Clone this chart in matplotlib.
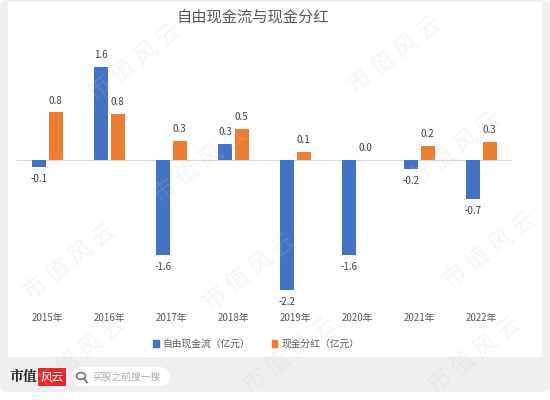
import matplotlib
matplotlib.use("Agg")
import matplotlib.pyplot as plt
import numpy as np
from matplotlib.patches import FancyBboxPatch, Rectangle, Circle, Patch
from matplotlib.lines import Line2D

plt.rcParams['font.family'] = ['Noto Sans CJK SC', 'DejaVu Sans']

# data
years = ['2015年', '2016年', '2017年', '2018年', '2019年', '2020年', '2021年', '2022年']
fcf = [-0.12, 1.6, -1.64, 0.27, -2.24, -1.64, -0.16, -0.67]
dividend = [0.82, 0.79, 0.33, 0.54, 0.14, 0.0, 0.24, 0.31]
title = '自由现金流与现金分红'
series_names = ['自由现金流（亿元）', '现金分红（亿元）']
blue = '#4472C4'
orange = '#ED7D31'
W, H = 550, 400

def fx(px):
    return px / W

def fy(py):
    return 1 - py / H

fig = plt.figure(figsize=(5.5, 4), dpi=100)
fig.patch.set_facecolor('white')

# gray panel and white card
fig.patches.append(FancyBboxPatch((fx(0), fy(392)), fx(550), 392 / H,
                                  boxstyle='round,pad=0,rounding_size=0.015',
                                  transform=fig.transFigure, facecolor='#efefef',
                                  edgecolor='none', zorder=-3))
fig.patches.append(Rectangle((fx(8), fy(357)), fx(534), 355 / H,
                             transform=fig.transFigure, facecolor='white',
                             edgecolor='none', zorder=-2))

ax = fig.add_axes([fx(16), fy(305), fx(496), (305 - 40) / H])
ax.set_facecolor('none')
x = np.arange(len(years))
bw = 0.23
ax.bar(x - 0.13, fcf, bw, color=blue, zorder=2)
ax.bar(x + 0.14, dividend, bw, color=orange, zorder=2)
ax.axhline(0, color='#d9d9d9', lw=0.9, zorder=1)

for xs, vals in ((x - 0.13, fcf), (x + 0.14, dividend)):
    for xi, v in zip(xs, vals):
        if v >= 0:
            ax.annotate(f'{v:.1f}', (xi, v), xytext=(0, 5), textcoords='offset points',
                        ha='center', va='bottom', fontsize=7, color='#404040')
        else:
            ax.annotate(f'{v:.1f}', (xi, v), xytext=(0, -5), textcoords='offset points',
                        ha='center', va='top', fontsize=7, color='#404040')

ax.set_xlim(-0.5, 7.5)
ax.set_ylim(-2.5, 2.07)
ax.set_xticks(x)
ax.set_xticklabels(years, fontsize=7, color='#595959')
ax.tick_params(axis='x', length=0, pad=6)
ax.set_yticks([])
for s in ax.spines.values():
    s.set_visible(False)

fig.text(fx(253), fy(17), title, ha='center', va='center', fontsize=11, color='#595959')

handles = [Patch(color=blue), Patch(color=orange)]
fig.legend(handles, series_names, loc='center', bbox_to_anchor=(fx(256), fy(344)),
           ncol=2, frameon=False, fontsize=7, handlelength=0.6, handleheight=0.6,
           handletextpad=0.4, columnspacing=2.2, labelcolor='#595959')

# watermarks
marks = [(85, 62), (345, 55), (150, 165), (405, 150), (20, 262), (200, 272),
         (440, 250), (30, 355), (240, 355), (425, 355)]
for mx, my in marks:
    fig.text(fx(mx), fy(my), '市 值 风 云', fontsize=17, color='#c8c8c8', alpha=0.18,
             rotation=38, ha='left', va='center', zorder=5)

# footer logo
fig.text(fx(10), fy(377), '市值', fontsize=10, fontweight='bold', color='#222222',
         ha='left', va='center', family=['Noto Serif CJK SC', 'Noto Sans CJK SC'])
fig.patches.append(Rectangle((fx(38), fy(386)), fx(28), 18 / H, transform=fig.transFigure,
                             facecolor='#e5252a', edgecolor='none'))
fig.text(fx(52), fy(377), '风云', fontsize=8.5, color='white', style='italic',
         ha='center', va='center')
fig.patches.append(FancyBboxPatch((fx(72), fy(386)), fx(98), 19 / H,
                                  boxstyle='round,pad=0,rounding_size=0.02',
                                  transform=fig.transFigure, facecolor='white',
                                  edgecolor='none', mutation_aspect=W / H))
fig.patches.append(Circle((fx(81), fy(376)), 4.5 / W, transform=fig.transFigure,
                          facecolor='none', edgecolor='#777777', lw=1.2))
fig.lines.append(Line2D([fx(84), fx(87)], [fy(379), fy(382.5)], transform=fig.transFigure,
                        color='#777777', lw=1.3))
fig.text(fx(92), fy(377), '买股之前搜一搜', fontsize=7, color='#a8a8a8', ha='left', va='center')

fig.savefig('out.png', dpi=100)
